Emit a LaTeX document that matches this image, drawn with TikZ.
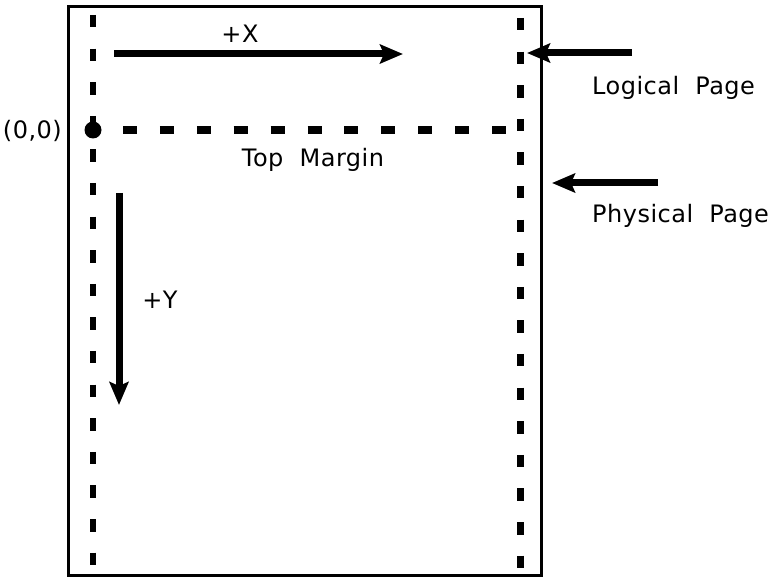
\documentclass[tikz,border=0pt]{standalone}
\usepackage{fontspec}
\setmainfont[LetterSpace=2]{DejaVu Sans}
\usetikzlibrary{arrows.meta}

\begin{document}
\begin{tikzpicture}[x=1pt,y=-1pt,>={Stealth[length=23pt,width=19pt,inset=4pt]},
  lbl/.style={font=\fontsize{24}{28}\selectfont,inner sep=0pt},
  guide/.style={line width=6.7pt,dash pattern=on 12.5pt off 21.1pt},
  axisarrow/.style={->,line width=7pt}]
  \useasboundingbox (0,0) rectangle (782,577);
  \draw[line width=3pt] (68,6.5) rectangle (541,575);
  \foreach \x/\y in {93/15,520.5/18}
    \draw[guide] (\x,\y) -- (\x,570);
  \draw[guide,line width=8pt,dash pattern=on 14pt off 22.9pt] (123,130) -- (510,130);
  \fill (93,130) circle (8.5pt);
  \node[lbl,anchor=east] (orig) at (62,131) {(0,0)};
  \node[lbl,anchor=base] (topm) at (313,167) {Top~~Margin};
  \coordinate (xs) at (114,54);
  \coordinate (xe) at (403,54);
  \draw[axisarrow] (xs) -- (xe);
  \node[lbl,anchor=base] (xlab) at (240,43) {+X};
  \coordinate (ys) at (119,193);
  \coordinate (ye) at (119,405);
  \draw[axisarrow] (ys) -- (ye);
  \node[lbl,anchor=base] (ylab) at (160,309) {+Y};
  \foreach \n/\s/\e/\y/\b/\t in {lp/632/527/53/95/Logical,pp/658/552/183/223/Physical}{
    \coordinate (\n s) at (\s,\y);
    \coordinate (\n e) at (\e,\y);
    \draw[axisarrow] (\n s) -- (\n e);
    \node[lbl,anchor=base west] (\n lab) at (592,\b) {\t~~Page};
  }
\end{tikzpicture}
\end{document}
